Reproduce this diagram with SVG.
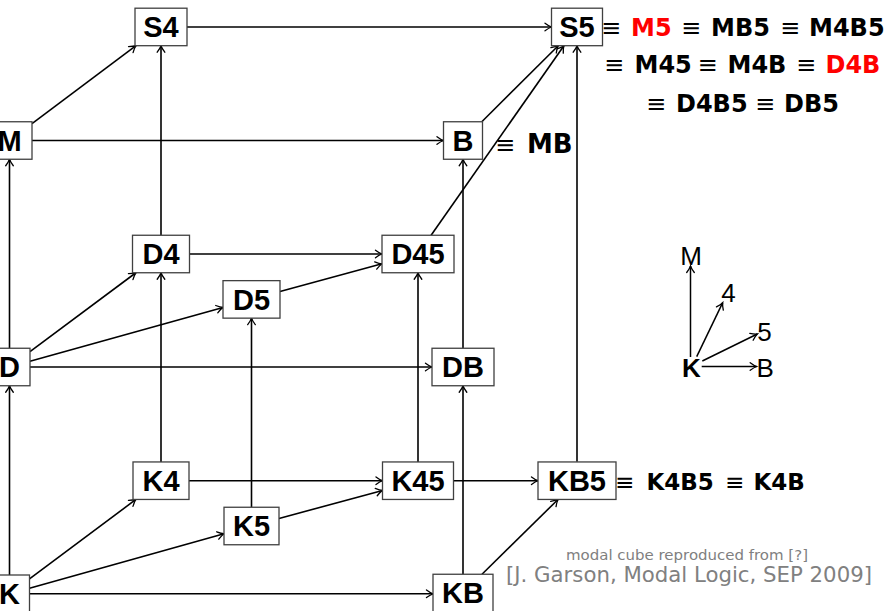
<svg xmlns="http://www.w3.org/2000/svg" width="886" height="611" viewBox="0 0 886 611">
<style>
.box{fill:#fff;stroke:#404040;stroke-width:1.3}
.nt{font-family:"Liberation Sans",Arial,sans-serif;font-weight:bold;font-size:29px;text-anchor:middle;fill:#000}
.e{fill:none;stroke:#000;stroke-width:1.6}
.eq{font-family:"DejaVu Sans",sans-serif;font-weight:bold;font-size:24px;fill:#000}
.eqv{font-family:"DejaVu Sans",sans-serif;font-weight:normal;font-size:24px;fill:#000}
.red{fill:#ff0000}
.lg{font-family:"Liberation Sans",Arial,sans-serif;font-size:26px;fill:#000}
.gr{font-family:"DejaVu Sans",sans-serif;fill:#808080}
</style>
<defs>
<marker id="ah" markerWidth="10" markerHeight="10" viewBox="-8 -5 10 10" refX="0" refY="0" orient="auto" markerUnits="userSpaceOnUse">
<path d="M-6.5,-3.8 Q-2.5,-0.8 0,0 Q-2.5,0.8 -6.5,3.8" fill="none" stroke="#000" stroke-width="1.3" stroke-linecap="round"/>
</marker>
</defs>

<g id="connectors">
<line class="e" marker-end="url(#ah)" x1="187" y1="27" x2="551.5" y2="27"/>
<line class="e" marker-end="url(#ah)" x1="32" y1="123.6" x2="136" y2="45.7"/>
<line class="e" marker-end="url(#ah)" x1="32" y1="140.5" x2="443.5" y2="140.5"/>
<line class="e" marker-end="url(#ah)" x1="9.5" y1="348.25" x2="9.5" y2="159.25"/>
<line class="e" marker-end="url(#ah)" x1="9.5" y1="575" x2="9.5" y2="385.75"/>
<line class="e" marker-end="url(#ah)" x1="161" y1="235.25" x2="161" y2="45.7"/>
<line class="e" marker-end="url(#ah)" x1="161" y1="461.95" x2="161" y2="272.75"/>
<line class="e" marker-end="url(#ah)" x1="251.5" y1="507.25" x2="251.5" y2="318.15"/>
<line class="e" marker-end="url(#ah)" x1="418" y1="462" x2="418" y2="272.75"/>
<line class="e" marker-end="url(#ah)" x1="463" y1="574.25" x2="463" y2="385.75"/>
<line class="e" marker-end="url(#ah)" x1="463" y1="348.25" x2="463" y2="159.25"/>
<line class="e" marker-end="url(#ah)" x1="577" y1="461.75" x2="577" y2="45.7"/>
<line class="e" marker-end="url(#ah)" x1="189.5" y1="254" x2="382" y2="254"/>
<line class="e" marker-end="url(#ah)" x1="280" y1="291.6" x2="382" y2="263.8"/>
<line class="e" marker-end="url(#ah)" x1="30" y1="351.7" x2="135.9" y2="272.75"/>
<line class="e" marker-end="url(#ah)" x1="30" y1="361.3" x2="223" y2="307.4"/>
<line class="e" marker-end="url(#ah)" x1="30" y1="367" x2="432" y2="367"/>
<line class="e" marker-end="url(#ah)" x1="29.5" y1="578.9" x2="135.9" y2="499.45"/>
<line class="e" marker-end="url(#ah)" x1="29.5" y1="588.2" x2="224" y2="533.7"/>
<line class="e" marker-end="url(#ah)" x1="29.5" y1="593.8" x2="433" y2="593.8"/>
<line class="e" marker-end="url(#ah)" x1="189" y1="480.7" x2="382.5" y2="480.7"/>
<line class="e" marker-end="url(#ah)" x1="279" y1="518.5" x2="382.5" y2="490.4"/>
<line class="e" marker-end="url(#ah)" x1="453.5" y1="480.7" x2="538" y2="480.7"/>
<line class="e" marker-end="url(#ah)" x1="482" y1="574.25" x2="558" y2="499.45"/>
<line class="e" marker-end="url(#ah)" x1="481.8" y1="121.75" x2="558.2" y2="45.7"/>
<line class="e" marker-end="url(#ah)" x1="431.1" y1="235.25" x2="563.9" y2="45.7"/>
</g>

<g id="node-S4"><rect class="box" x="135" y="8.2" width="52" height="37.5"/><text class="nt" x="161" y="37.4">S4</text></g>
<g id="node-S5"><rect class="box" x="551.5" y="8.2" width="51" height="37.5"/><text class="nt" x="577" y="37.4">S5</text></g>
<g id="node-M"><rect class="box" x="-13" y="121.75" width="45" height="37.5"/><text class="nt" x="9.5" y="150.9">M</text></g>
<g id="node-B"><rect class="box" x="443.5" y="121.75" width="39" height="37.5"/><text class="nt" x="463" y="150.9">B</text></g>
<g id="node-D4"><rect class="box" x="132.5" y="235.25" width="57" height="37.5"/><text class="nt" x="161" y="264.4">D4</text></g>
<g id="node-D45"><rect class="box" x="382" y="235.25" width="72" height="37.5"/><text class="nt" x="418" y="264.4">D45</text></g>
<g id="node-D5"><rect class="box" x="223" y="280.65" width="57" height="37.5"/><text class="nt" x="251.5" y="309.8">D5</text></g>
<g id="node-DB"><rect class="box" x="432" y="348.25" width="62" height="37.5"/><text class="nt" x="463" y="377.4">DB</text></g>
<g id="node-D"><rect class="box" x="-11" y="348.25" width="41" height="37.5"/><text class="nt" x="9.5" y="377.4">D</text></g>
<g id="node-K4"><rect class="box" x="133" y="461.95" width="56" height="37.5"/><text class="nt" x="161" y="491.1">K4</text></g>
<g id="node-K5"><rect class="box" x="224" y="507.25" width="55" height="37.5"/><text class="nt" x="251.5" y="536.4">K5</text></g>
<g id="node-K45"><rect class="box" x="382.5" y="461.95" width="71" height="37.5"/><text class="nt" x="418" y="491.1">K45</text></g>
<g id="node-KB5"><rect class="box" x="538" y="461.95" width="78" height="37.5"/><text class="nt" x="577" y="491.1">KB5</text></g>
<g id="node-KB"><rect class="box" x="433" y="574.25" width="60" height="37.5"/><text class="nt" x="463" y="603.4">KB</text></g>
<g id="node-K"><rect class="box" x="-10.5" y="575" width="40" height="37.5"/><text class="nt" x="9.5" y="604.1">K</text></g>

<g id="equivalences-S5">
<text class="eqv" x="601" y="36">≡</text>
<text class="eq red" x="631" y="36">M5</text>
<text class="eqv" x="681" y="36">≡</text>
<text class="eq" x="711" y="36">MB5</text>
<text class="eqv" x="780" y="36">≡</text>
<text class="eq" x="809" y="36">M4B5</text>
<text class="eqv" x="604" y="73">≡</text>
<text class="eq" x="634.5" y="73">M45</text>
<text class="eqv" x="697.5" y="73">≡</text>
<text class="eq" x="727.5" y="73">M4B</text>
<text class="eqv" x="796" y="73">≡</text>
<text class="eq red" x="825.5" y="73">D4B</text>
<text class="eqv" x="646" y="111.5">≡</text>
<text class="eq" x="676" y="111.5">D4B5</text>
<text class="eqv" x="755" y="111.5">≡</text>
<text class="eq" x="784" y="111.5">DB5</text>
</g>
<g id="equivalences-B">
<text class="eqv" x="495" y="153">≡</text>
<text class="eq" x="527" y="153" style="font-size:26px">MB</text>
</g>
<g id="equivalences-KB5">
<text class="eqv" x="615" y="490" style="font-size:23px">≡</text>
<text class="eq" x="646.5" y="490" style="font-size:23px">K4B5</text>
<text class="eqv" x="725" y="490" style="font-size:23px">≡</text>
<text class="eq" x="753.5" y="490" style="font-size:23px">K4B</text>
</g>

<g id="legend">
<line class="e" style="stroke-width:1.5" marker-end="url(#ah)" x1="690.5" y1="357" x2="690.5" y2="266"/>
<line class="e" style="stroke-width:1.5" marker-end="url(#ah)" x1="696.7" y1="356.7" x2="722.7" y2="302.7"/>
<line class="e" style="stroke-width:1.5" marker-end="url(#ah)" x1="702.3" y1="361" x2="757.3" y2="334"/>
<line class="e" style="stroke-width:1.5" marker-end="url(#ah)" x1="701.7" y1="366.5" x2="756.7" y2="366.5"/>
<text class="lg" x="691" y="264.5" text-anchor="middle">M</text>
<text class="lg" x="728.5" y="302" text-anchor="middle">4</text>
<text class="lg" x="764.5" y="340.5" text-anchor="middle">5</text>
<text class="lg" x="756.5" y="377">B</text>
<text class="lg" x="691.5" y="377" text-anchor="middle" font-weight="bold">K</text>
</g>

<g id="citation">
<text class="gr" x="566" y="560" font-size="14.5" textLength="242" lengthAdjust="spacingAndGlyphs">modal cube reproduced from [?]</text>
<text class="gr" x="506" y="582" font-size="22" textLength="366" lengthAdjust="spacingAndGlyphs">[J. Garson, Modal Logic, SEP 2009]</text>
</g>
</svg>
